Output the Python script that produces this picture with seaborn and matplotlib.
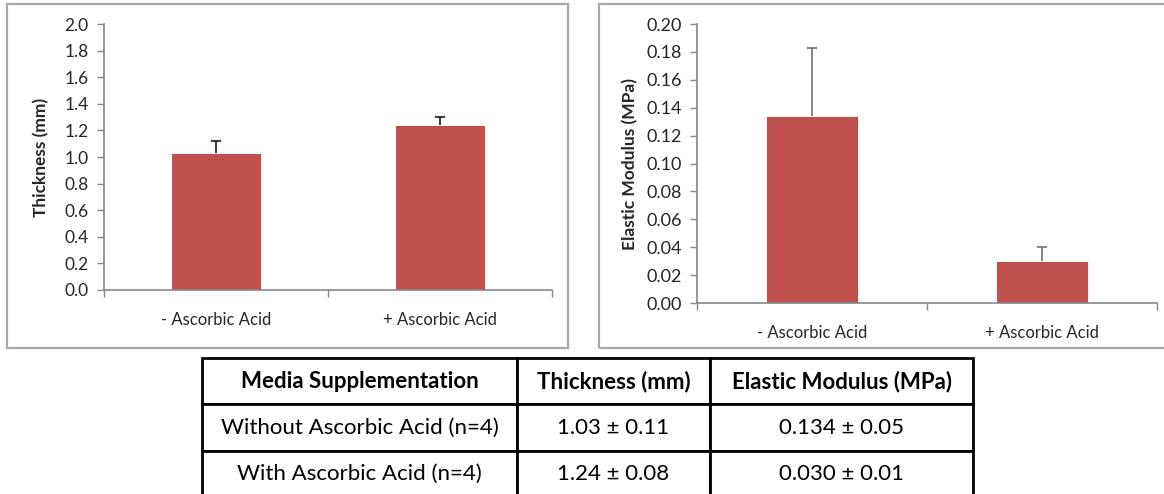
import matplotlib
matplotlib.use("Agg")
import matplotlib.pyplot as plt
from matplotlib.patches import Rectangle
from matplotlib.ticker import FixedLocator
import seaborn as sns

sns.set_theme(style="white")
plt.rcParams['font.family'] = ['Lato', 'DejaVu Sans']

# data
groups = ['- Ascorbic Acid', '+ Ascorbic Acid']
thickness = [1.03, 1.24]
thickness_err = [0.09, 0.06]
modulus = [0.134, 0.030]
modulus_err = [0.049, 0.0105]

table_header = ['Media Supplementation', 'Thickness (mm)', 'Elastic Modulus (MPa)']
table_rows = [
    ['Without Ascorbic Acid (n=4)', '1.03 \u00b1 0.11', '0.134 \u00b1 0.05'],
    ['With Ascorbic Acid (n=4)', '1.24 \u00b1 0.08', '0.030 \u00b1 0.01'],
]

bar_color = '#C0504D'
axis_color = '#868686'
W, H = 1164, 494

fig = plt.figure(figsize=(W / 100, H / 100), dpi=100)


def fig_rect(x0, y0, x1, y1):
    # pixel box (top-left origin) -> figure fraction [left, bottom, width, height]
    return [x0 / W, 1 - y1 / H, (x1 - x0) / W, (y1 - y0) / H]


# gray frames around each chart
for x0, y0, x1, y1 in [(7, 4, 568, 348), (599, 4, 1172, 348)]:
    l, b, w, h = fig_rect(x0, y0, x1, y1)
    fig.patches.append(Rectangle((l, b), w, h, transform=fig.transFigure,
                                 fill=False, edgecolor='#a6a6a6', lw=1.6))


def draw_bars(ax, vals, errs, ylim, step, fmt, ylabel, ecolor, labelpad, tick_size):
    sns.barplot(x=groups, y=vals, color=bar_color, width=0.4, ax=ax,
                saturation=1, edgecolor='white', linewidth=0.6)
    _, caps, _ = ax.errorbar(range(len(vals)), vals, yerr=[[0] * len(errs), errs], fmt='none',
                             ecolor=ecolor, elinewidth=1.2, capsize=3.5, capthick=1.2)
    caps[0].set_visible(False)  # only the upper cap, as in the original
    ax.set_xlim(-0.5, len(vals) - 0.5)
    ax.set_ylim(*ylim)
    n = int(round((ylim[1] - ylim[0]) / step))
    ticks = [ylim[0] + i * step for i in range(n + 1)]
    ax.set_yticks(ticks)
    ax.set_yticklabels([fmt.format(t) for t in ticks])
    ax.xaxis.set_minor_locator(FixedLocator([-0.5, 0.5, 1.5]))
    ax.tick_params(axis='x', which='major', length=0, pad=16, labelsize=12)
    ax.tick_params(axis='x', which='minor', length=5, color=axis_color, width=1, direction='out', bottom=True)
    ax.tick_params(axis='y', length=5, color=axis_color, width=1, direction='out', left=True,
                   labelsize=tick_size, pad=6)
    for s in ['top', 'right']:
        ax.spines[s].set_visible(False)
    for s in ['left', 'bottom']:
        ax.spines[s].set_color(axis_color)
        ax.spines[s].set_linewidth(1.2)
    ax.set_ylabel(ylabel, fontsize=12.5, fontweight='bold', labelpad=labelpad)
    ax.set_xlabel('')
    ax.set_facecolor('white')


ax1 = fig.add_axes(fig_rect(104, 24, 552, 290))
draw_bars(ax1, thickness, thickness_err, (0, 2.0), 0.2, '{:.1f}', 'Thickness (mm)',
          '#1a1a1a', 11, 12.5)

ax2 = fig.add_axes(fig_rect(697, 24, 1157, 303))
draw_bars(ax2, modulus, modulus_err, (0, 0.20), 0.02, '{:.2f}', 'Elastic Modulus (MPa)',
          '#6f6f6f', 6, 13)

# summary table
axt = fig.add_axes(fig_rect(202, 358, 973, 497))
axt.axis('off')
tbl = axt.table(cellText=table_rows, colLabels=table_header, cellLoc='center',
                bbox=[0, 0, 1, 1], colWidths=[315, 193, 263])
tbl.auto_set_font_size(False)
for (r, c), cell in tbl.get_celld().items():
    cell.set_linewidth(2)
    cell.set_edgecolor('black')
    cell.set_text_props(fontsize=16, color='black',
                        fontweight='bold' if r == 0 else 'normal')

fig.savefig('out.png', dpi=100, facecolor='white')
